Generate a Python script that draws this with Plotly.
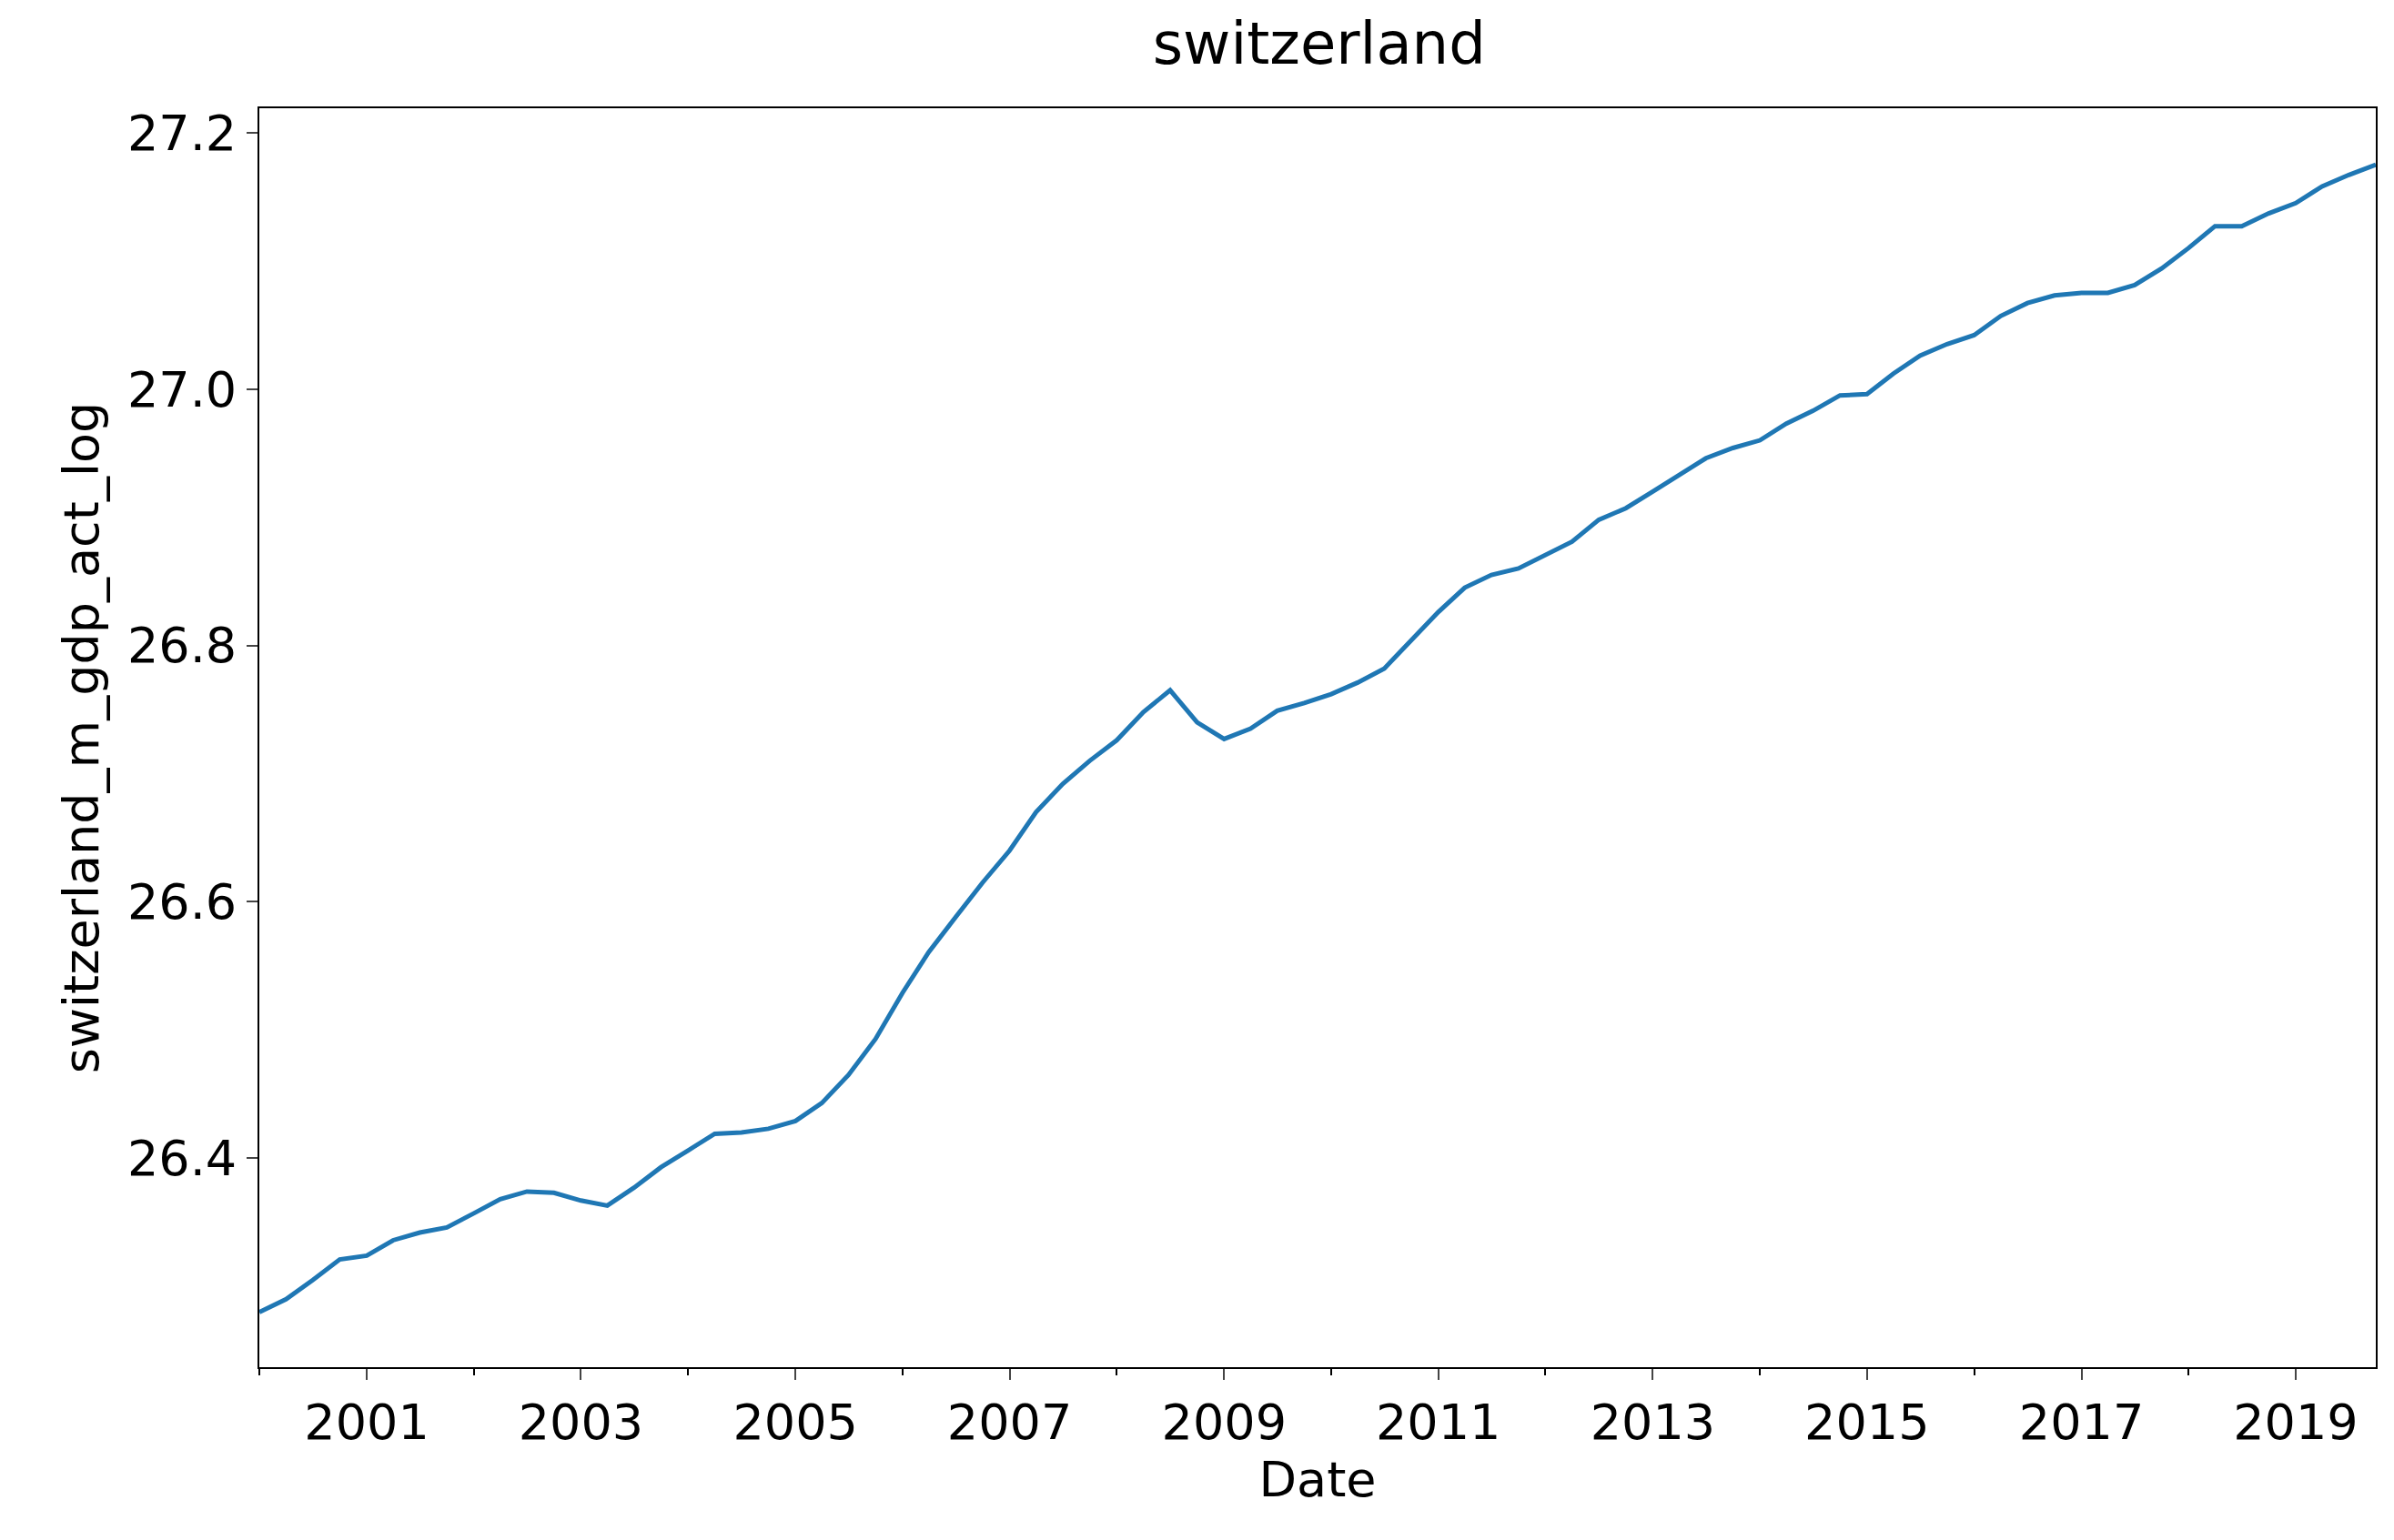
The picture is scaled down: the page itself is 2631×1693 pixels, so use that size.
import plotly.graph_objects as go
import pandas as pd

dates = pd.date_range("2000-01-01", periods=80, freq="QS")
values = [26.280,26.290,26.305,26.321,26.324,26.336,26.342,26.346,26.357,26.368,26.374,26.373,
26.367,26.363,26.377,26.393,26.406,26.419,26.420,26.423,26.429,26.443,26.465,26.493,
26.529,26.561,26.588,26.615,26.640,26.670,26.692,26.710,26.726,26.748,26.765,26.740,
26.727,26.735,26.749,26.755,26.762,26.771,26.782,26.804,26.826,26.845,26.855,26.860,
26.871,26.881,26.898,26.907,26.920,26.933,26.946,26.954,26.960,26.973,26.983,26.995,
26.996,27.012,27.026,27.035,27.042,27.057,27.067,27.073,27.075,27.075,27.081,27.094,
27.110,27.127,27.127,27.137,27.145,27.158,27.167,27.175]
xticks = [f"{y}-01-01" for y in range(2001, 2020, 2)]
xlabels = [str(y) for y in range(2001, 2020, 2)]

fig = go.Figure(go.Scatter(x=dates, y=values, mode="lines",
                           line=dict(color="#1f77b4", width=5)))
axis_common = dict(showline=True, linecolor="black", linewidth=2, mirror=True,
                   showgrid=False, zeroline=False, ticks="outside", ticklen=12, tickwidth=2,
                   tickfont=dict(size=54, color="black"))
fig.update_layout(
    width=2631, height=1693, plot_bgcolor="white", paper_bgcolor="white",
    font=dict(family="DejaVu Sans", color="black"),
    margin=dict(l=277, r=28, t=111, b=198),
    title=dict(text="switzerland", x=0.548, xanchor="center", y=0.99, yanchor="top",
               font=dict(size=64)),
    showlegend=False,
    xaxis=dict(axis_common, range=["2000-01-01", "2019-10-01"], tickvals=xticks, ticktext=xlabels,
               minor=dict(dtick="M12", tick0="2000-01-01", ticks="outside", ticklen=7, tickwidth=1.5, tickcolor="black"),
               title=dict(text="Date", font=dict(size=54), standoff=8)),
    yaxis=dict(axis_common, range=[26.237, 27.219], tickvals=[26.4, 26.6, 26.8, 27.0, 27.2],
               ticktext=["26.4", "26.6", "26.8", "27.0", "27.2"],
               title=dict(text="switzerland_m_gdp_act_log", font=dict(size=54), standoff=14)),
)
fig.write_html("out.html")
